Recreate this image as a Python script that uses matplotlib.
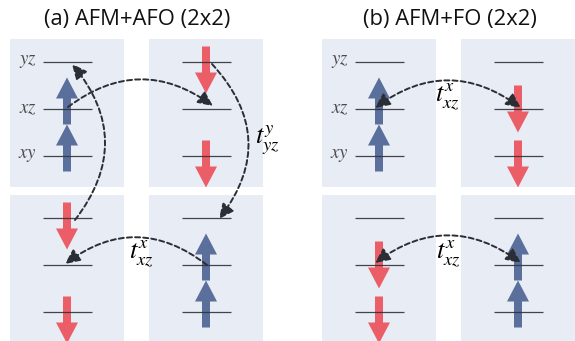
import matplotlib
matplotlib.use("Agg")
import matplotlib.pyplot as plt
from matplotlib.patches import Rectangle, FancyArrow, FancyArrowPatch

plt.rcParams["mathtext.fontset"] = "stix"

# ---- content ---------------------------------------------------------------
PANEL_TITLES = ["(a) AFM+AFO (2x2)", "(b) AFM+FO (2x2)"]
LEVELS = ["yz", "xz", "xy"]                      # top to bottom in each cell
# sites of each 2x2 cell, order: top-left, top-right, bottom-left, bottom-right
SPIN_A = ["up", "down", "down", "up"]
OCC_A = [["xz", "xy"], ["yz", "xy"], ["yz", "xy"], ["xz", "xy"]]
SPIN_B = ["up", "down", "down", "up"]
OCC_B = [["xz", "xy"], ["xz", "xy"], ["xz", "xy"], ["xz", "xy"]]
HOP_A = [r"$t^{y}_{yz}$", r"$t^{x}_{xz}$"]
HOP_B = [r"$t^{x}_{xz}$", r"$t^{x}_{xz}$"]

# ---- style -----------------------------------------------------------------
BOX_C = "#e8ecf4"
UP_C = "#5a6f9c"
DOWN_C = "#ec5e67"
LINE_C = "#2f3238"
ARC_C = "#2b2e35"

W, H = 575, 341
fig = plt.figure(figsize=(W / 100, H / 100), dpi=100)
ax = fig.add_axes([0, 0, 1, 1])
ax.set_xlim(0, W)
ax.set_ylim(H, 0)
ax.axis("off")

panel_x0 = [10, 322]
box_w, box_h = 114, 148
col_step = 139
row_y0 = [39, 195]
level_off = {"yz": 23, "xz": 70, "xy": 117}


def cell_geom(p, k):
    r, c = divmod(k, 2)
    x0 = panel_x0[p] + c * col_step
    y0 = row_y0[r]
    return x0, y0, x0 + box_w / 2


def level_y(p, k, lev):
    _, y0, _ = cell_geom(p, k)
    return y0 + level_off[lev]


for p, (title, spins, occ) in enumerate(zip(PANEL_TITLES, [SPIN_A, SPIN_B], [OCC_A, OCC_B])):
    ax.text(panel_x0[p] + (box_w + col_step) / 2 + 1, 20, title, ha="center", va="center",
            fontsize=15.8, family="Open Sans", color="#111111")
    for k in range(4):
        x0, y0, cx = cell_geom(p, k)
        ax.add_patch(Rectangle((x0, y0), box_w, box_h + (8 if k >= 2 else 0),
                               facecolor=BOX_C, edgecolor="none", zorder=0))
        for lev in LEVELS:
            ly = level_y(p, k, lev)
            ax.plot([cx - 24.5, cx + 24.5], [ly, ly], color=LINE_C, lw=0.9,
                    alpha=0.9, zorder=3, solid_capstyle="butt")
            if k == 0:
                ax.text(x0 + 27, ly - 1, "$" + lev + "$", ha="right", va="center",
                        fontsize=13.5, color="#4a4a4a", zorder=4)
        for lev in occ[k]:
            ly = level_y(p, k, lev)
            if spins[k] == "up":
                tail, d, col = ly + 15.5, -47, UP_C
            else:
                shift = -8 if (p == 1 and lev == "xz") else 0
                tail, d, col = ly - 15.5 + shift, 47, DOWN_C
            ax.add_patch(FancyArrow(cx, tail, 0, d, width=8, head_width=22,
                                    head_length=21, length_includes_head=True,
                                    facecolor=col, edgecolor="none", zorder=2))


def arc(p0, p1, rad, style):
    ax.add_patch(FancyArrowPatch(p0, p1, connectionstyle=f"arc3,rad={rad}",
                                 arrowstyle=style, mutation_scale=10,
                                 color=ARC_C, lw=1.4, linestyle=(0, (2.6, 1.6)),
                                 shrinkA=0, shrinkB=0, zorder=6))


HEAD = "-|>,head_length=0.9,head_width=0.42"
BOTH = "<|-|>,head_length=0.9,head_width=0.42"

# panel (a)
_, _, c0 = cell_geom(0, 0)
_, _, c1 = cell_geom(0, 1)
arc((c0 + 1, level_y(0, 0, "xz") - 2), (c1 + 7, level_y(0, 1, "xz") - 3), -0.37, HEAD)
arc((c1 + 6, level_y(0, 1, "yz") + 2), (c1 + 13, level_y(0, 3, "yz") + 1), -0.42, HEAD)
arc((c0 + 8, level_y(0, 2, "yz") + 2), (c0 + 5, level_y(0, 0, "yz") + 2), 0.40, HEAD)
arc((c1 + 1, level_y(0, 3, "xz")), (c0 - 2, level_y(0, 2, "xz") - 1), 0.38, HEAD)
ax.text(267, 139, HOP_A[0], ha="center", va="center", fontsize=19, zorder=7)
ax.text(141, 254, HOP_A[1], ha="center", va="center", fontsize=19, zorder=7)

# panel (b)
_, _, d0 = cell_geom(1, 0)
_, _, d1 = cell_geom(1, 1)
arc((d0 - 4, level_y(1, 0, "xz") - 1), (d1 + 3, level_y(1, 1, "xz") - 1), -0.37, BOTH)
arc((d0 - 4, level_y(1, 2, "xz") - 2), (d1 + 3, level_y(1, 3, "xz") - 2), -0.37, BOTH)
ax.text(447, 97, HOP_B[0], ha="center", va="center", fontsize=19, zorder=7)
ax.text(448, 254, HOP_B[1], ha="center", va="center", fontsize=19, zorder=7)

fig.savefig("out.png", dpi=100, facecolor="white")
